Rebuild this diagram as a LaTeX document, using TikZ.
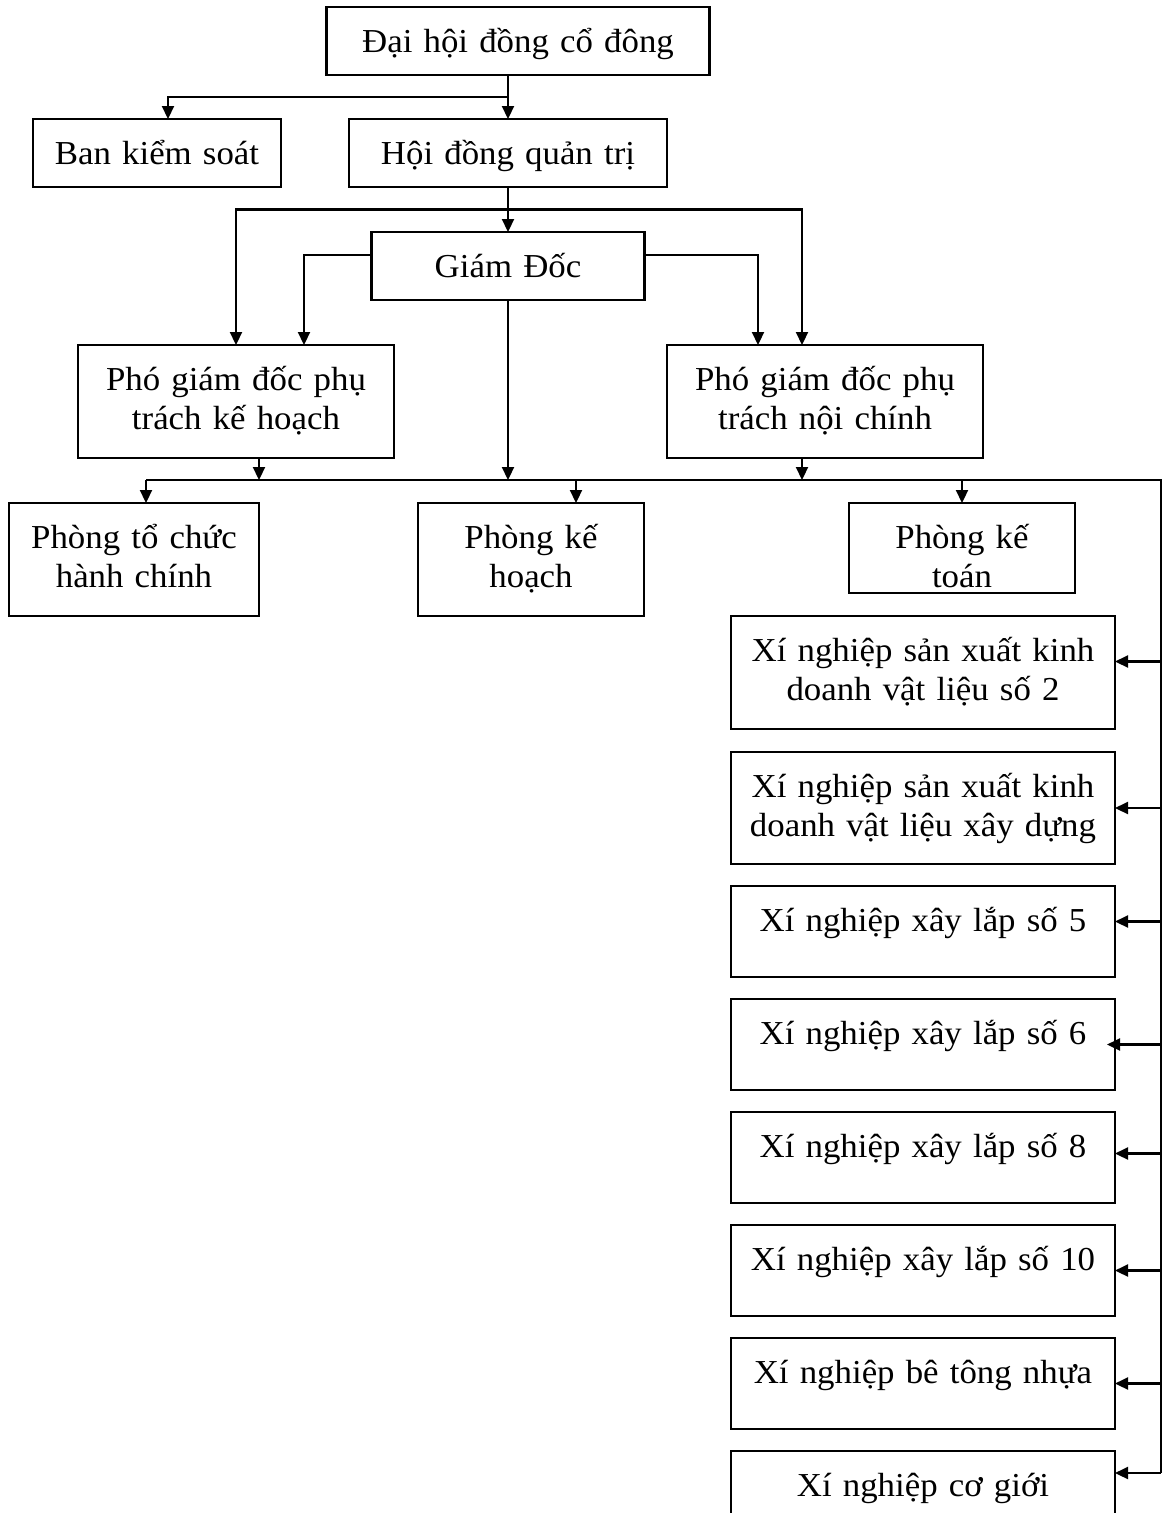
\documentclass[tikz,border=0pt]{standalone}
\usepackage{fontspec}
\setmainfont{Liberation Serif}[FakeStretch=1.04]
\usetikzlibrary{positioning, calc, arrows.meta}
\tikzstyle{sbox} = [rectangle, draw, line width=2.2pt, inner sep=0pt, outer sep=0pt, align=center, text height=45pt, text depth=23pt]
\tikzstyle{dbox} = [sbox, text depth=68pt]
\tikzstyle{xbox} = [sbox, text depth=46pt, text width=384pt]
\tikzstyle{line} = [draw, line width=2.2pt, -{Triangle[length=13pt, width=12pt]}]
\tikzstyle{wire} = [draw, line width=2.2pt]

\begin{document}
\begin{tikzpicture}[x=1pt, y=1pt, node distance=22pt, font=\fontsize{33.5}{39}\selectfont]
    \useasboundingbox (0,0) rectangle (1168,-1513);
    \clip (0,0) rectangle (1168,-1513);

    \node[sbox, text width=383pt, anchor=north](dhcd) at (518,-7) {Đại hội đồng cổ đông};
    \node[sbox, text width=248pt, anchor=north](bks) at (157,-119) {Ban kiểm soát};
    \node[sbox, text width=318pt, anchor=north](hdqt) at (508,-119) {Hội đồng quản trị};
    \node[sbox, text width=273pt, anchor=north](gd) at (508,-232) {Giám Đốc};
    \node[dbox, text width=316pt, anchor=north](pgdkh) at (236,-345) {Phó giám đốc phụ\\trách kế hoạch};
    \node[dbox, text width=316pt, anchor=north](pgdnc) at (825,-345) {Phó giám đốc phụ\\trách nội chính};
    \node[dbox, text width=250pt, anchor=north](ptchc) at (134,-503) {Phòng tổ chức\\hành chính};
    \node[dbox, text width=226pt, anchor=north](pkh) at (531,-503) {Phòng kế\\hoạch};
    \node[xbox, text width=226pt, text depth=45pt, anchor=north](pkt) at (962,-503) {Phòng kế\\toán};

    % xi nghiep column
    \node[dbox, text width=384pt, anchor=north](xn1) at (923,-616) {Xí nghiệp sản xuất kinh\\doanh vật liệu số 2};
    \node[dbox, text width=384pt, text depth=67pt, below=23pt of xn1](xn2) {Xí nghiệp sản xuất kinh\\doanh vật liệu xây dựng};
    \node[xbox, below=of xn2](xn5) {Xí nghiệp xây lắp số 5};
    \node[xbox, below=of xn5](xn6) {Xí nghiệp xây lắp số 6};
    \node[xbox, below=of xn6](xn8) {Xí nghiệp xây lắp số 8};
    \node[xbox, below=of xn8](xn10) {Xí nghiệp xây lắp số 10};
    \node[xbox, below=of xn10](xnbtn) {Xí nghiệp bê tông nhựa};
    \node[xbox, below=of xnbtn](xncg) {Xí nghiệp cơ giới};

    \coordinate (bus) at (146,-480);
    \coordinate (rail) at (1161,-480);
    \coordinate (railend) at (1161,-1473);
    \coordinate (j1) at ($(dhcd.south -| hdqt.north)!0.5!(hdqt.north)$);
    \coordinate (j2) at ($(hdqt.south)!0.5!(hdqt.south |- gd.north)$);

    \path[line] (dhcd.south -| hdqt.north) -- (hdqt.north);
    \path[line] (j1) -| ([xshift=11pt]bks.north);
    \path[line] (hdqt.south) -- (hdqt.south |- gd.north);
    \path[line] (j2) -| (pgdkh.north);
    \path[line] (j2) -| ([xshift=-23pt]pgdnc.north);
    \path[line] ([yshift=11pt]gd.west) -| ([xshift=68pt]pgdkh.north);
    \path[line] ([yshift=11pt]gd.east) -| ([xshift=-67pt]pgdnc.north);
    \path[line] (gd.south) -- (gd.south |- bus);
    \path[line] ([xshift=23pt]pgdkh.south) -- ([xshift=23pt]pgdkh.south |- bus);
    \path[line] ([xshift=-23pt]pgdnc.south) -- ([xshift=-23pt]pgdnc.south |- bus);

    % bus and rail
    \path[wire] (bus) -- (rail) -- (railend);
    \path[line] (bus) -- ([xshift=12pt]ptchc.north);
    \path[line] ([xshift=45pt]pkh.north |- bus) -- ([xshift=45pt]pkh.north);
    \path[line] (pkt.north |- bus) -- (pkt.north);

    \path[line] ([yshift=11pt]xn1.east -| rail) -- ([yshift=11pt]xn1.east);
    \path[line] (xn2.east -| rail) -- (xn2.east);
    \path[line] ([yshift=10pt]xn5.east -| rail) -- ([yshift=10pt]xn5.east);
    \path[line] (xn6.east -| rail) -- ([xshift=-8pt]xn6.east);
    \path[line] ([yshift=4pt]xn8.east -| rail) -- ([yshift=4pt]xn8.east);
    \path[line] (xn10.east -| rail) -- (xn10.east);
    \path[line] (xnbtn.east -| rail) -- (xnbtn.east);
    \path[line] (railend) -- (railend -| xncg.east);
\end{tikzpicture}
\end{document}
